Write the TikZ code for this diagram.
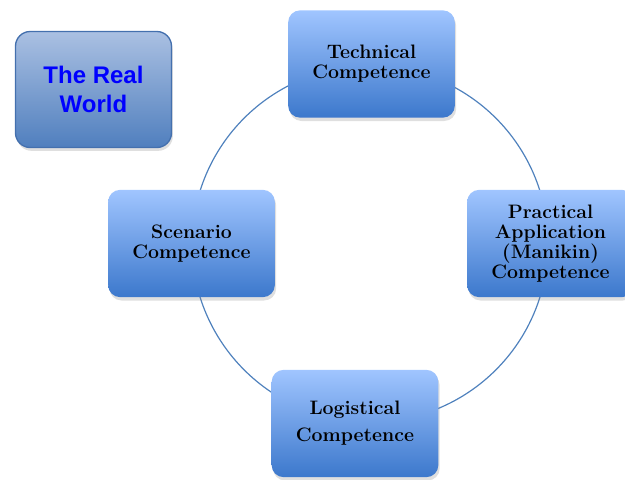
\documentclass[tikz,border=0pt]{standalone}
\usepackage{fontspec}
\newfontfamily\worldfont{Liberation Sans}
\usetikzlibrary{shadows}
\definecolor{ringblue}{RGB}{79,129,189}
\definecolor{boxtop}{RGB}{160,197,255}
\definecolor{boxbottom}{RGB}{60,120,204}
\definecolor{worldtop}{RGB}{170,192,226}
\definecolor{worldbottom}{RGB}{80,127,190}
\definecolor{worldedge}{RGB}{68,112,174}

\begin{document}
\begin{tikzpicture}[x=0.75pt,y=-0.75pt,
		stage/.style={rounded corners=9pt,minimum width=125pt,minimum height=80.5pt,align=center,
			top color=boxtop,bottom color=boxbottom,
			drop shadow={opacity=0.25,shadow xshift=1pt,shadow yshift=-2.5pt},
			font=\fontsize{14.6}{15}\selectfont\bfseries},
		world/.style={rounded corners=11pt,minimum width=117pt,minimum height=87pt,align=center,
			draw=worldedge,line width=1pt,top color=worldtop,bottom color=worldbottom,
			drop shadow={opacity=0.25,shadow xshift=1pt,shadow yshift=-2.5pt},
			text=blue,font=\worldfont\fontsize{18}{21.5}\selectfont\bfseries},
		ring/.style={draw=ringblue,line width=0.9pt}]
		\useasboundingbox (0,0) rectangle (625,479);
		\clip (0,0) rectangle (625,479);
		\coordinate (hub) at (370,244);
		\draw [ring] (hub) circle (133.5pt);
		\node [world] (real) at (93.5,89.5) {The Real\\World};
		\node [stage] (technical) at (371.5,64) {Technical\\Competence};
		\node [stage] (practical) at (550.5,243.5) {Practical\\Application\\(Manikin)\\Competence};
		\node [stage,font=\fontsize{14.6}{20.3}\selectfont\bfseries] (logistical) at (355,423.5) {Logistical\\Competence};
		\node [stage] (scenario) at (191.5,243.5) {Scenario\\Competence};
	\end{tikzpicture}
\end{document}
